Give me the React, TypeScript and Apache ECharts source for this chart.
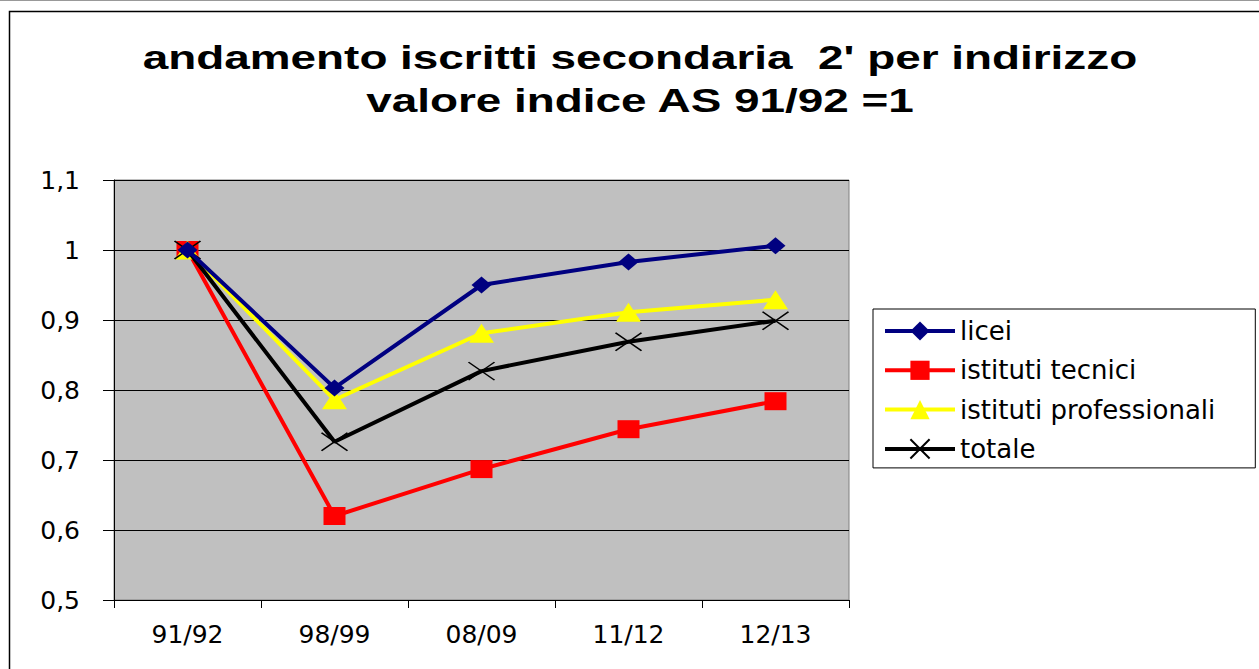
import React, { useEffect, useRef } from "react";
import * as echarts from "echarts";

const categories = ["91/92", "98/99", "08/09", "11/12", "12/13"];
const licei = [1, 0.803, 0.95, 0.983, 1.006];
const tecnici = [1, 0.62, 0.687, 0.744, 0.784];
const professionali = [1, 0.786, 0.881, 0.911, 0.929];
const totale = [1, 0.726, 0.827, 0.869, 0.899];
const seriesNames = ["licei", "istituti tecnici", "istituti professionali", "totale"];
const titleLines = ["andamento iscritti secondaria  2' per indirizzo", "valore indice AS 91/92 =1"];

const WIDE = "'DejaVu Sans', 'Liberation Sans', sans-serif";
const CROSS = "path://M0,0L10,10M10,0L0,10";

export default function App() {
  const ref = useRef<HTMLDivElement>(null);
  useEffect(() => {
    if (!ref.current) return;
    const chart = echarts.init(ref.current, undefined, { renderer: "svg" });
    chart.setOption({
      animation: false,
      backgroundColor: "#ffffff",
      graphic: [
        {
          type: "rect",
          shape: { x: 9.5, y: 11.5, width: 1300, height: 700 },
          style: { fill: "none", stroke: "#000", lineWidth: 1.5 },
          silent: true,
          z: -1,
        },
        {
          type: "line",
          shape: { x1: 0, y1: 0.5, x2: 1259, y2: 0.5 },
          style: { stroke: "#999", lineWidth: 1 },
          silent: true,
        },
        {
          type: "text",
          x: 640,
          y: 36,
          scaleX: 1.39,
          silent: true,
          style: {
            text: titleLines.join("\n"),
            font: "bold 33px 'Liberation Sans', Arial, sans-serif",
            fill: "#000",
            textAlign: "center",
            textVerticalAlign: "top",
            lineHeight: 43,
          },
        },
      ],
      legend: {
        orient: "vertical",
        left: 873,
        top: 309,
        padding: [7, 40, 4, 10],
        itemGap: 9.3,
        itemWidth: 70,
        itemHeight: 24,
        borderColor: "#000",
        borderWidth: 1,
        backgroundColor: "#fff",
        data: seriesNames,
        lineStyle: { width: 4 },
        textStyle: {
          fontFamily: WIDE,
          fontSize: 26,
          color: "#000",
          lineHeight: 30,
        },
      },
      grid: {
        left: 114,
        top: 180,
        width: 735,
        height: 420,
        show: true,
        backgroundColor: "#C0C0C0",
        borderColor: "#808080",
        borderWidth: 1,
      },
      xAxis: {
        type: "category",
        data: categories,
        boundaryGap: true,
        axisLine: { lineStyle: { color: "#000", width: 1 } },
        axisTick: { show: true, length: 8, lineStyle: { color: "#000" } },
        axisLabel: {
          fontFamily: WIDE,
          fontSize: 25,
          color: "#000",
          margin: 22,
        },
      },
      yAxis: {
        type: "value",
        min: 0.5,
        max: 1.1,
        interval: 0.1,
        axisLine: { show: true, lineStyle: { color: "#000", width: 1 } },
        axisTick: { show: true, length: 11, lineStyle: { color: "#000" } },
        splitLine: { show: true, lineStyle: { color: "#000", width: 1 } },
        axisLabel: {
          fontFamily: WIDE,
          fontSize: 25,
          color: "#000",
          margin: 34,
          formatter: (v: number) => String(Math.round(v * 10) / 10).replace(".", ","),
        },
      },
      series: [
        {
          name: seriesNames[0],
          type: "line",
          data: licei,
          symbol: "diamond",
          symbolSize: [20, 17],
          lineStyle: { color: "#000080", width: 4 },
          itemStyle: { color: "#000080" },
          z: 5,
        },
        {
          name: seriesNames[1],
          type: "line",
          data: tecnici,
          symbol: "rect",
          symbolSize: [22, 18],
          lineStyle: { color: "#FF0000", width: 4 },
          itemStyle: { color: "#FF0000" },
          z: 2,
        },
        {
          name: seriesNames[2],
          type: "line",
          data: professionali,
          symbol: "triangle",
          symbolSize: [25, 19],
          lineStyle: { color: "#FFFF00", width: 4 },
          itemStyle: { color: "#FFFF00" },
          z: 3,
        },
        {
          name: seriesNames[3],
          type: "line",
          data: totale,
          symbol: CROSS,
          symbolSize: [26, 18],
          lineStyle: { color: "#000000", width: 4 },
          itemStyle: { color: "#000000", borderColor: "#000000", borderWidth: 1.5 },
          z: 4,
        },
      ],
    });
    return () => chart.dispose();
  }, []);
  return (
    <div
      ref={ref}
      style={{ position: "fixed", left: 0, top: 0, width: 1259, height: 669 }}
    />
  );
}
